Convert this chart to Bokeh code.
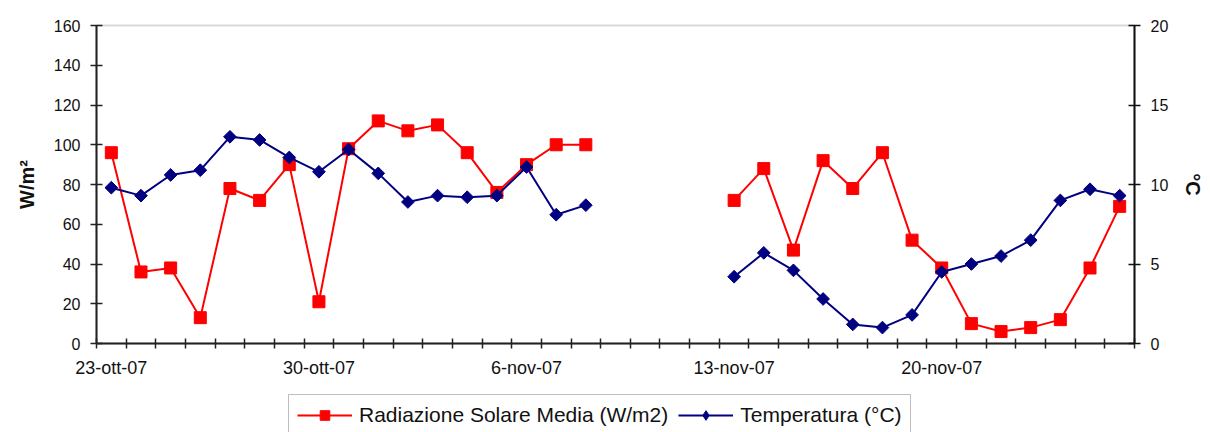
import numpy as np
import pandas as pd
from bokeh.plotting import figure
from bokeh.models import (ColumnDataSource, Range1d, LinearAxis, FixedTicker,
                          Legend, LegendItem, BoxAnnotation, Label)
from bokeh.embed import file_html
from bokeh.resources import INLINE

# Daily observations, 23 Oct - 26 Nov 2007 (no data 9-12 Nov)
dates = pd.date_range("2007-10-23", "2007-11-26", freq="D")
MESI = {10: "ott", 11: "nov"}
day_labels = [f"{d.day}-{MESI[d.month]}-{d:%y}" for d in dates]

nan = np.nan
radiazione = [96, 36, 38, 13, 78, 72, 90, 21, 98, 112, 107, 110, 96, 76, 90, 100, 100,
              nan, nan, nan, nan,
              72, 88, 47, 92, 78, 96, 52, 38, 10, 6, 8, 12, 38, 69]
temperatura = [9.8, 9.3, 10.6, 10.9, 13.0, 12.8, 11.7, 10.8, 12.2, 10.7, 8.9, 9.3, 9.2, 9.3, 11.1, 8.1, 8.7,
               nan, nan, nan, nan,
               4.2, 5.7, 4.6, 2.8, 1.2, 1.0, 1.8, 4.5, 5.0, 5.5, 6.5, 9.0, 9.7, 9.3]

label_every = 7
rad_max, temp_max = 160, 20
y_left_ticks = [0, 20, 40, 60, 80, 100, 120, 140, 160]
y_right_ticks = [0, 5, 10, 15, 20]

FONT = "Liberation Sans"
RED = "#FF0000"
NAVY = "#000080"
INK = "#111111"

# canvas geometry (pixels)
W, H = 1210, 432
LEFT, RIGHT, TOP = 96, 76, 25     # margins around the value area
PLOT_H = 318                      # height of the value area (0 .. max)
below = H - TOP - PLOT_H          # room under the zero line for dates + legend

n = len(day_labels)
x0, x1 = -0.5, n - 0.5
day_px = (W - LEFT - RIGHT) / n

# the frame covers the whole canvas; axes sit at fixed spots inside it
x_lo = x0 - LEFT / day_px
x_hi = x1 + RIGHT / day_px
rad_lo = -rad_max * below / PLOT_H
rad_hi = rad_max * (1 + TOP / PLOT_H)
temp_lo = -temp_max * below / PLOT_H
temp_hi = temp_max * (1 + TOP / PLOT_H)

idx = np.arange(n)
src = ColumnDataSource(dict(
    x=idx,
    rad=np.array(radiazione, dtype=float),
    temp=np.array(temperatura, dtype=float),
))

p = figure(width=W, height=H, output_backend="svg", toolbar_location=None,
           x_range=Range1d(x_lo, x_hi),
           y_range=Range1d(rad_lo, rad_hi),
           x_axis_location=None, y_axis_location=None,
           min_border=0)
p.extra_y_ranges = {"temp": Range1d(temp_lo, temp_hi)}

p.grid.visible = False
p.outline_line_color = None
p.background_fill_color = "white"
p.border_fill_color = "white"

# grey border of the value area (the axes are drawn over its other sides)
p.add_layout(BoxAnnotation(left=x0, right=x1, bottom=0, top=rad_max,
                           fill_alpha=0, line_color="#808080", line_width=2,
                           level="underlay"))

# bottom axis on the zero line: day ticks between days, date labels weekly
xax = LinearAxis(fixed_location=0, bounds=(x0, x1),
                 ticker=FixedTicker(ticks=list(idx[::label_every]),
                                    minor_ticks=list(np.arange(x0, n, 1.0))))
xax.major_label_overrides = {int(i): day_labels[i] for i in idx[::label_every]}
xax.major_tick_in = 0
xax.major_tick_out = 0
xax.minor_tick_in = 5
xax.minor_tick_out = 5
xax.minor_tick_line_color = "#222222"
xax.minor_tick_line_width = 1.5
xax.axis_line_color = "#222222"
xax.axis_line_width = 2
xax.major_label_standoff = 9
xax.major_label_text_font = FONT
xax.major_label_text_font_size = "18px"
xax.major_label_text_color = INK
p.add_layout(xax, "below")

# left axis (W/m2)
yax = LinearAxis(fixed_location=x0, ticker=FixedTicker(ticks=y_left_ticks),
                 bounds=(0, rad_max))
yax.major_tick_in = 6
yax.major_tick_out = 6
yax.minor_tick_line_color = None
yax.major_label_standoff = 10
yax.major_label_text_font = FONT
yax.major_label_text_font_size = "16px"
yax.major_label_text_color = INK
yax.axis_line_color = "#222222"
yax.axis_line_width = 2
yax.major_tick_line_color = "#222222"
yax.major_tick_line_width = 1.5
p.add_layout(yax, "left")

# right axis (temperature)
rax = LinearAxis(fixed_location=x1, y_range_name="temp",
                 ticker=FixedTicker(ticks=y_right_ticks), bounds=(0, temp_max))
rax.major_tick_in = 6
rax.major_tick_out = 6
rax.minor_tick_line_color = None
rax.major_label_standoff = 10
rax.major_label_text_font = FONT
rax.major_label_text_font_size = "16px"
rax.major_label_text_color = INK
rax.axis_line_color = INK
rax.axis_line_width = 2
rax.major_tick_line_color = INK
rax.major_tick_line_width = 1.5
p.add_layout(rax, "right")

# axis titles, centred on the value area
p.add_layout(Label(x=26, x_units="screen", y=rad_max / 2, text="W/m²",
                   angle=np.pi / 2, text_align="center", text_baseline="middle",
                   text_font=FONT, text_font_style="bold", text_font_size="20px",
                   text_color=INK))
p.add_layout(Label(x=W - 18, x_units="screen", y=rad_max / 2, text="°C",
                   angle=-np.pi / 2, text_align="center", text_baseline="middle",
                   text_font=FONT, text_font_style="bold", text_font_size="20px",
                   text_color=INK))

# series
r_line = p.line("x", "rad", source=src, line_color=RED, line_width=2)
r_pts = p.scatter("x", "rad", source=src, marker="square", size=12,
                  fill_color=RED, line_color=RED)
t_line = p.line("x", "temp", source=src, y_range_name="temp",
                line_color=NAVY, line_width=2)
t_pts = p.scatter("x", "temp", source=src, y_range_name="temp", marker="square",
                  angle=np.pi / 4, size=9, fill_color=NAVY, line_color=NAVY)
# diamond swatch for the legend (a single empty point, nothing drawn in the plot)
t_key = p.scatter(x=[nan], y=[nan], y_range_name="temp", marker="diamond",
                  size=14, fill_color=NAVY, line_color=NAVY)

legend = Legend(items=[
    LegendItem(label="Radiazione Solare Media (W/m2)", renderers=[r_line, r_pts]),
    LegendItem(label="Temperatura (°C)", renderers=[t_line, t_key]),
], orientation="horizontal", location=(288, -4))
legend.label_text_font = FONT
legend.label_text_font_size = "21px"
legend.label_text_color = INK
legend.glyph_width = 55
legend.glyph_height = 24
legend.label_standoff = 7
legend.spacing = 10
legend.padding = 8
legend.margin = 0
legend.border_line_color = "#808080"
legend.border_line_width = 1.5
legend.background_fill_alpha = 1
p.add_layout(legend)

open("out.html", "w").write(file_html(p, INLINE))
